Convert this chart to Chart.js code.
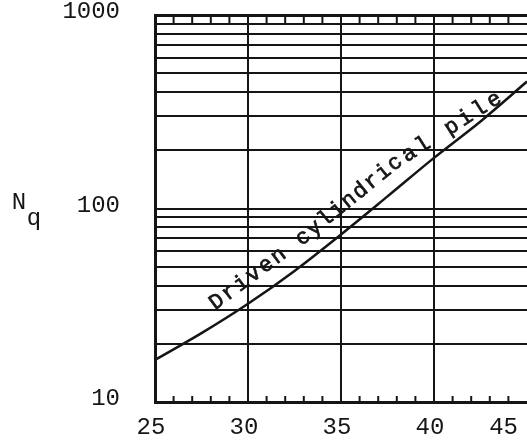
<!DOCTYPE html>
<html><head><meta charset="utf-8">
<script src="https://cdn.jsdelivr.net/npm/chart.js@4/dist/chart.umd.min.js"></script>
<style>html,body{margin:0;padding:0;background:#fff;overflow:hidden;} #wrap{width:527px;height:446px;}</style>
</head><body><div id="wrap"><canvas id="c" width="527" height="446"></canvas></div>
<script>
const phiDeg = [25, 27.5, 30, 32.5, 35, 37.5, 40, 42.5, 45];
const nqValues = [16.5, 22.7, 32.2, 47.6, 73.4, 115.5, 182.7, 281.8, 452.9];
const xTickValues = [25, 30, 35, 40, 45];
const xTickLabels = ['25', '30', '35', '40', '45'];
const xMinorTicks = [26, 27, 28, 29, 31, 32, 33, 34, 36, 37, 38, 39, 41, 42, 43, 44];
const yGridValues = [10, 20, 30, 40, 50, 60, 70, 80, 90, 100, 200, 300, 400, 500, 600, 700, 800, 900, 1000];
const yLabelValues = [10, 100, 1000];
const curveLabel = 'Driven cylindrical pile';
// character-centre anchors along the label: [character index, phi, Nq]
const labelAnchorIndex = [0, 7, 15, 22];
const labelAnchorPhi = [28.33, 32.96, 37.9, 43.23];
const labelAnchorNq = [32.9, 70.8, 171.8, 364];
const axisLabelMain = 'N';
const axisLabelSub = 'q';

const INK = '#151515';
const FONT = 'Liberation Mono';

const extras = {
  id: 'extras',
  afterDraw(chart) {
    const ctx = chart.ctx;
    const xs = chart.scales.x, ys = chart.scales.y;
    const area = chart.chartArea;
    ctx.save();
    ctx.strokeStyle = INK;
    ctx.lineWidth = 2;
    xMinorTicks.forEach(v => {
      const px = xs.getPixelForValue(v);
      ctx.beginPath();
      ctx.moveTo(px, area.bottom);
      ctx.lineTo(px, area.bottom - 6);
      ctx.moveTo(px, area.top);
      ctx.lineTo(px, area.top + 8);
      ctx.stroke();
    });
    ctx.fillStyle = INK;
    ctx.font = '24px "' + FONT + '"';
    ctx.textAlign = 'center';
    ctx.textBaseline = 'middle';
    xTickValues.forEach((v, i) => {
      const t = xTickLabels[i];
      const w = ctx.measureText(t).width;
      let px = xs.getPixelForValue(v) - 4;
      px = Math.min(px, chart.width - 9 - w / 2);
      ctx.fillText(t, px, area.bottom + 26);
    });
    ctx.textAlign = 'center';
    ctx.textBaseline = 'alphabetic';
    ctx.font = '24px "' + FONT + '"';
    ctx.fillText(axisLabelMain, 19, 209);
    ctx.fillText(axisLabelSub, 34, 225);
    // curve label, character by character
    const pts = labelAnchorPhi.map((p, k) => [xs.getPixelForValue(p), ys.getPixelForValue(labelAnchorNq[k])]);
    ctx.font = '22px "' + FONT + '"';
    ctx.textAlign = 'center';
    ctx.textBaseline = 'middle';
    ctx.lineWidth = 0.7;
    for (let i = 0; i < curveLabel.length; i++) {
      let k = 0;
      while (k < labelAnchorIndex.length - 2 && i > labelAnchorIndex[k + 1]) k++;
      const i0 = labelAnchorIndex[k], i1 = labelAnchorIndex[k + 1];
      const t = (i - i0) / (i1 - i0);
      const a = pts[k], b = pts[k + 1];
      const x = a[0] + (b[0] - a[0]) * t;
      const y = a[1] + (b[1] - a[1]) * t;
      const ang = Math.atan2(b[1] - a[1], b[0] - a[0]);
      ctx.save();
      ctx.translate(x, y);
      ctx.rotate(ang);
      ctx.fillText(curveLabel[i], 0, 0);
      ctx.strokeText(curveLabel[i], 0, 0);
      ctx.restore();
    }
    ctx.restore();
  }
};

new Chart(document.getElementById('c'), {
  type: 'line',
  data: {
    datasets: [{
      data: phiDeg.map((x, i) => ({ x: x, y: nqValues[i] })),
      borderColor: INK,
      borderWidth: 2.5,
      pointRadius: 0,
      fill: false,
      cubicInterpolationMode: 'monotone'
    }]
  },
  options: {
    responsive: false,
    animation: false,
    devicePixelRatio: 1,
    layout: { padding: { top: 15, right: 0, left: 0, bottom: 0 } },
    plugins: { legend: { display: false }, tooltip: { enabled: false } },
    scales: {
      x: {
        type: 'linear', min: 25, max: 45,
        afterBuildTicks: s => { s.ticks = xTickValues.map(v => ({ value: v })); },
        ticks: { display: false },
        grid: { color: INK, lineWidth: c => (c.tick && c.tick.value === 45) ? 0 : 2, drawTicks: false },
        border: { display: true, color: INK, width: 3 },
        afterFit: s => { s.height = 44; s.paddingLeft = 0; s.paddingRight = 0; }
      },
      y: {
        type: 'logarithmic', min: 10, max: 1000,
        afterBuildTicks: s => { s.ticks = yGridValues.map(v => ({ value: v })); },
        ticks: {
          autoSkip: false,
          callback: v => yLabelValues.includes(v) ? String(v) : '',
          font: { family: FONT, size: 24 },
          color: INK,
          padding: 35,
          labelOffset: -3
        },
        grid: { color: INK, lineWidth: c => (c.tick && c.tick.value === 1000) ? 3 : 2, drawTicks: false },
        border: { display: true, color: INK, width: 3 },
        afterFit: s => { s.width = 155; s.paddingTop = 0; s.paddingBottom = 0; }
      }
    }
  },
  plugins: [extras]
});
</script>
</body></html>
